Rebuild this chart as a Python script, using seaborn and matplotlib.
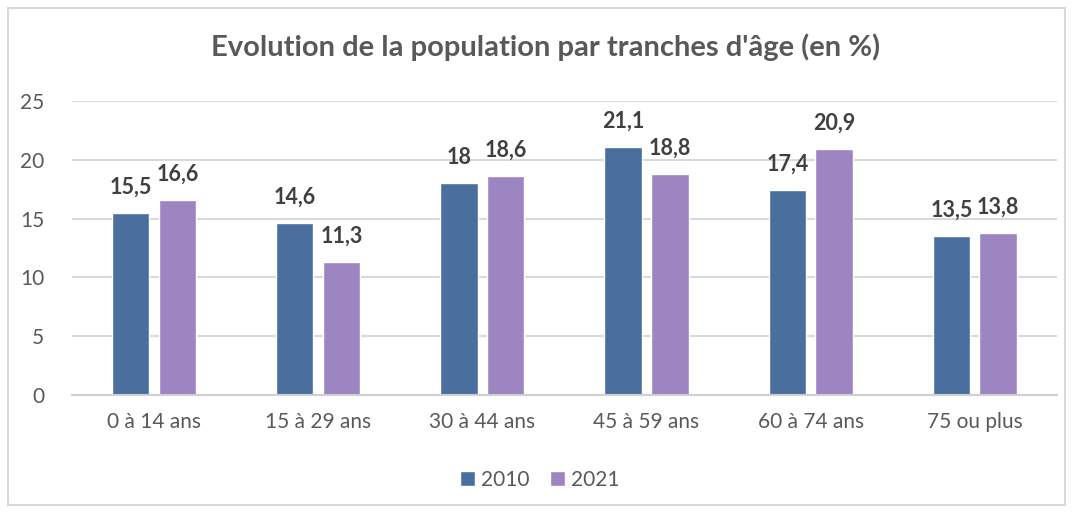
import pandas as pd
import seaborn as sns
import matplotlib.pyplot as plt
from matplotlib.patches import Rectangle

categories = ["0 à 14 ans", "15 à 29 ans", "30 à 44 ans", "45 à 59 ans", "60 à 74 ans", "75 ou plus"]
values_2010 = [15.5, 14.6, 18.0, 21.1, 17.4, 13.5]
values_2021 = [16.6, 11.3, 18.6, 18.8, 20.9, 13.8]
years = ["2010", "2021"]
colors = ["#4a6f9e", "#9c85c0"]

df = pd.DataFrame({
    "tranche": categories * 2,
    "annee": [years[0]] * len(categories) + [years[1]] * len(categories),
    "pct": values_2010 + values_2021,
})

sns.set_style("white")
plt.rcParams["font.family"] = ["Lato", "DejaVu Sans"]

fig = plt.figure(figsize=(10.73, 5.12), dpi=100)
ax = fig.add_axes([0.067, 0.2285, 0.918, 0.5742])

sns.barplot(data=df, x="tranche", y="pct", hue="annee", palette=colors,
            width=0.57, gap=0.2, saturation=1, ax=ax)

ax.set_ylim(0, 25)
ax.set_yticks(range(0, 26, 5))
ax.set_xlim(-0.5, len(categories) - 0.5)
ax.yaxis.grid(True, color="#d9d9d9", linewidth=1.5)
ax.set_axisbelow(True)
sns.despine(ax=ax, left=True, top=True, right=True)
ax.spines["bottom"].set_color("#d0d0d0")
ax.spines["bottom"].set_linewidth(1.5)
ax.tick_params(axis="both", length=0, labelsize=15, labelcolor="#595959")
ax.tick_params(axis="x", pad=12)
ax.tick_params(axis="y", pad=20)
ax.set_xlabel("")
ax.set_ylabel("")

for cont in ax.containers:
    labels = [f"{v:g}".replace(".", ",") for v in cont.datavalues]
    ax.bar_label(cont, labels=labels, padding=11, fontsize=15.5,
                 fontweight="bold", color="#404040")

ax.legend(loc="center", bbox_to_anchor=(0.503, 0.0625), bbox_transform=fig.transFigure,
          ncol=2, frameon=False, fontsize=15, handlelength=0.7, handleheight=0.7,
          handletextpad=0.3, columnspacing=1.0, labelcolor="#595959")

fig.suptitle("Evolution de la population par tranches d'âge (en %)", x=0.508, y=0.935,
             fontsize=21, fontweight="bold", color="#595959")

fig.patches.append(Rectangle((0.0075, 0.013), 0.985, 0.972, transform=fig.transFigure,
                             fill=False, edgecolor="#d9d9d9", linewidth=1.5))

fig.savefig("out.png", dpi=100)
